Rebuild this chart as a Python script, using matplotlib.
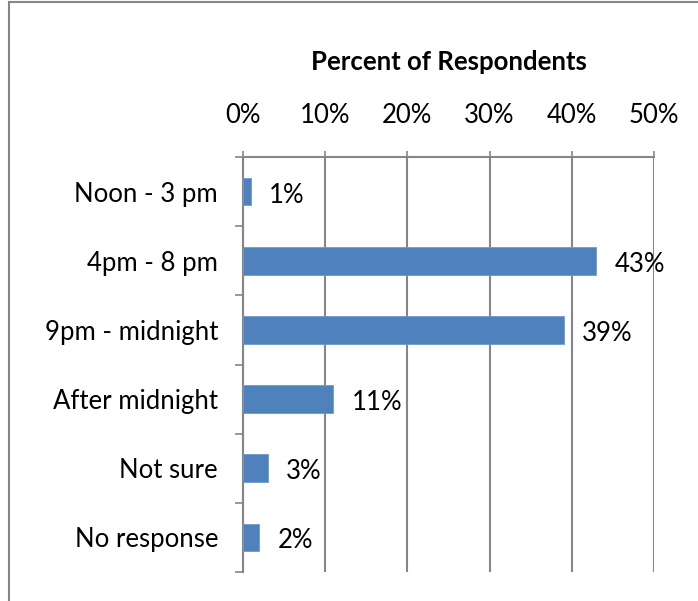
import numpy as np
import matplotlib.pyplot as plt
from matplotlib.patches import Rectangle

categories = ['Noon - 3 pm', '4pm - 8 pm', '9pm - midnight', 'After midnight', 'Not sure', 'No response']
percents = [1, 43, 39, 11, 3, 2]
ticks = [0, 10, 20, 30, 40, 50]

plt.rcParams['font.family'] = ['Lato', 'DejaVu Sans']
GRAY = '#868686'
FS = 18.5

fig = plt.figure(figsize=(6.98, 6.01), dpi=100)
ax = fig.add_axes([243/698, 1 - 572/601, 411/698, 415/601])

# outer chart border
fig.add_artist(Rectangle((9/698, -0.1), 1.2, 1 - 2/601 + 0.1, transform=fig.transFigure,
                         fill=False, edgecolor=GRAY, linewidth=1.5))

y = np.arange(len(categories))
ax.barh(y, percents, height=0.4, color='#4F81BD', edgecolor='#6E9AD0', linewidth=0.6, zorder=3)
for yi, v in zip(y, percents):
    ax.annotate(f'{v}%', (v, yi), xytext=(13, -2.5), textcoords='offset points',
                va='center', ha='left', fontsize=FS)

ax.set_xlim(0, 50)
ax.set_ylim(len(categories) - 0.5, -0.5)
ax.set_xticks(ticks)
ax.set_xticklabels([f'{t}%' for t in ticks], fontsize=FS)
ax.xaxis.tick_top()
ax.tick_params(axis='x', direction='out', length=4, width=1.2, color=GRAY, pad=17)
ax.grid(axis='x', color=GRAY, linewidth=1.5, zorder=0)

ax.set_yticks(y)
ax.set_yticklabels(categories, fontsize=FS)
ax.set_yticks(np.arange(-0.5, len(categories)), minor=True)
ax.tick_params(axis='y', which='major', length=0, pad=18)
ax.tick_params(axis='y', which='minor', length=6, width=1.2, color=GRAY)

for s in ['right', 'bottom']:
    ax.spines[s].set_visible(False)
for s in ['top', 'left']:
    ax.spines[s].set_color(GRAY)
    ax.spines[s].set_linewidth(1.5)

ax.set_title('Percent of Respondents', fontsize=FS, fontweight='bold', pad=63)

fig.savefig('out.png', dpi=100)
